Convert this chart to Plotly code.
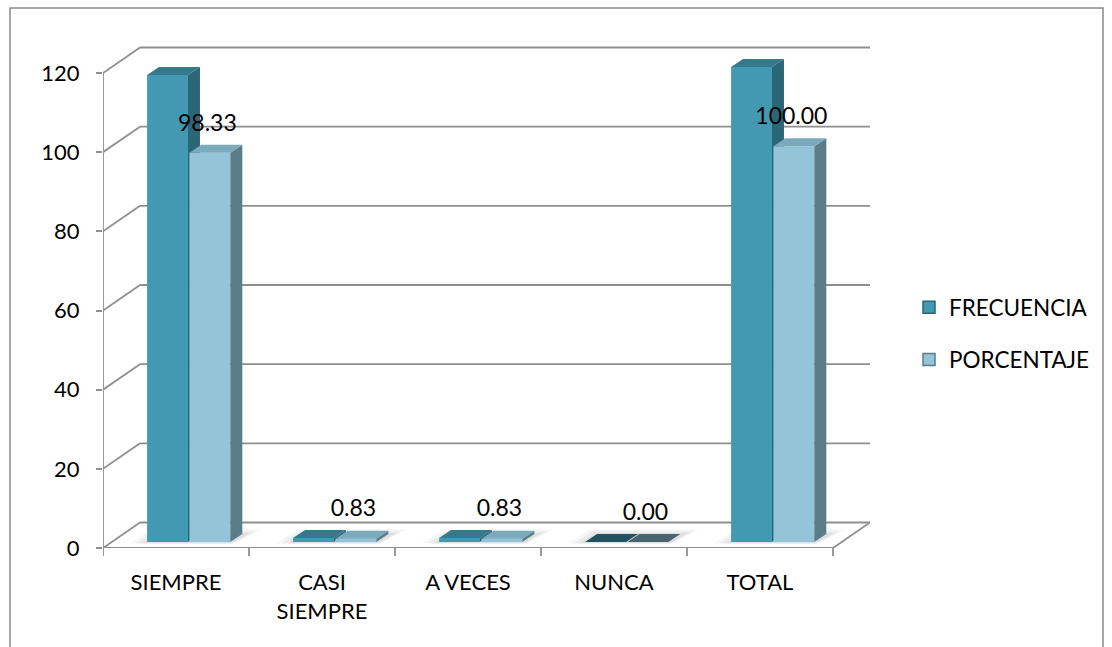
import plotly.graph_objects as go

# ---------------- data ----------------
categories = ["SIEMPRE", "CASI<br>SIEMPRE", "A VECES", "NUNCA", "TOTAL"]
frecuencia = [118, 1, 1, 0, 120]
porcentaje = [98.33, 0.83, 0.83, 0.00, 100.00]
porcentaje_labels = ["98.33", "0.83", "0.83", "0.00", "100.00"]
y_ticks = [0, 20, 40, 60, 80, 100, 120]
series_names = ["FRECUENCIA", "PORCENTAJE"]

# ---------------- geometry (pixel based) ----------------
W, H = 1112, 647
L, R, T, B = 103, 870, 46, 548
PX_CAT = 146.0
PX_UNIT = 475.0 / 120.0
DX = 37 / PX_CAT          # depth offset of back wall (x units)
DY = 25.5 / PX_UNIT       # depth offset of back wall (y units)
BASE = 6 / PX_UNIT        # bar front base above floor front edge
BDX = 12 / PX_CAT         # bar depth x
BDY = 8 / PX_UNIT         # bar depth y
BAR_W = 0.28
OFFS = [-0.058, 0.232]
XMIN = -0.5
XMAX = XMIN + (R - L) / PX_CAT
YMAX = (B - T) / PX_UNIT
NCAT = len(categories)

FONT = "Lato"
GRID = "#8f8f8f"

styles = [
    dict(front="#4399b1", side="#2b6677", top="#35798d", top0="#22525f"),
    dict(front="#93c4d7", side="#5b7d89", top="#7aaabb", top0="#476570"),
]

fig = go.Figure()

# ---- walls / gridlines ----
gx, gy = [], []
for v in y_ticks:
    gx += [XMIN + DX, NCAT - 0.5 + DX, None]
    gy += [v + DY, v + DY, None]
    gx += [XMIN, XMIN + DX, None]
    gy += [v, v + DY, None]
# front axis vertical
gx += [XMIN, XMIN, None]
gy += [0, max(y_ticks), None]
# floor front edge + right diagonal
gx += [XMIN, NCAT - 0.5, NCAT - 0.5 + DX, None]
gy += [0, 0, DY, None]
fig.add_trace(go.Scatter(x=gx, y=gy, mode="lines", line=dict(color=GRID, width=1.8),
                         hoverinfo="skip", showlegend=False))

# ---- soft shadows ----
for grow, alpha in [(0.10, 0.035), (0.06, 0.045), (0.02, 0.05)]:
    sx, sy = [], []
    for i in range(NCAT):
        x0 = i + OFFS[0] - BAR_W / 2
        x1 = i + OFFS[1] + BAR_W / 2
        sx += [x0 - grow - 0.02, x1 + grow * 0.3, x1 + BDX + grow + 0.03,
               x0 + BDX - grow * 0.5, x0 - grow - 0.02, None]
        sy += [BASE - 0.4, BASE - 0.4, BASE + BDY + grow * 12,
               BASE + BDY + grow * 12, BASE - 0.4, None]
    fig.add_trace(go.Scatter(x=sx, y=sy, mode="lines", fill="toself",
                             fillcolor=f"rgba(0,0,0,{alpha})", line=dict(width=0),
                             hoverinfo="skip", showlegend=False))

# ---- 3D bars ----
for s, vals in enumerate([frecuencia, porcentaje]):
    st = styles[s]
    fx, fy, sx_, sy_ = [], [], [], []
    tops = []
    for i, v in enumerate(vals):
        x0 = i + OFFS[s] - BAR_W / 2
        x1 = i + OFFS[s] + BAR_W / 2
        b, t = BASE, BASE + v
        fx += [x0, x1, x1, x0, x0, None]
        fy += [b, b, t, t, b, None]
        sx_ += [x1, x1 + BDX, x1 + BDX, x1, x1, None]
        sy_ += [b, b + BDY, t + BDY, t, b, None]
        tops.append(([x0, x1, x1 + BDX, x0 + BDX, x0], [t, t, t + BDY, t + BDY, t],
                     st["top0"] if v == 0 else st["top"]))
    fig.add_trace(go.Scatter(x=fx, y=fy, mode="lines", fill="toself", fillcolor=st["front"],
                             line=dict(width=0), hoverinfo="skip", showlegend=False))
    fig.add_trace(go.Scatter(x=sx_, y=sy_, mode="lines", fill="toself", fillcolor=st["side"],
                             line=dict(width=0), hoverinfo="skip", showlegend=False))
    for tx, ty, col in tops:
        fig.add_trace(go.Scatter(x=tx, y=ty, mode="lines", fill="toself", fillcolor=col,
                                 line=dict(width=0), hoverinfo="skip", showlegend=False))

# ---- data labels ----
fig.add_trace(go.Scatter(
    x=[i + 0.215 for i in range(NCAT)],
    y=[BASE + v + 28 / PX_UNIT for v in porcentaje],
    mode="text", text=porcentaje_labels, textposition="middle center",
    textfont=dict(family=FONT, size=23, color="#000000"),
    cliponaxis=False, hoverinfo="skip", showlegend=False))

# ---- legend entries ----
for s, name in enumerate(series_names):
    fig.add_trace(go.Bar(x=[None], y=[None], name=name, legendgroup=name,
                         marker=dict(color=styles[s]["front"],
                                     line=dict(color=styles[s]["side"], width=1.5))))

# ---- category boundary ticks ----
shapes = []
for k in range(NCAT + 1):
    xb = XMIN + k
    shapes.append(dict(type="line", xref="x", yref="paper", x0=xb, x1=xb,
                       y0=0, y1=-8 / (B - T), line=dict(color=GRID, width=1.8)))
# outer chart border
shapes.append(dict(type="rect", xref="paper", yref="paper",
                   x0=(10 - L) / (R - L), x1=(1103 - L) / (R - L),
                   y0=(B - 665) / (B - T), y1=(B - 8) / (B - T),
                   line=dict(color="#8a8a8a", width=1.5), fillcolor="rgba(0,0,0,0)", layer="below"))

fig.update_layout(
    width=W, height=H,
    margin=dict(l=L, r=W - R, t=T, b=H - B, pad=0),
    paper_bgcolor="white", plot_bgcolor="white",
    font=dict(family=FONT, size=22, color="#000000"),
    showlegend=True,
    legend=dict(x=(909 - L) / (R - L), xanchor="left",
                y=(B - 286) / (B - T), yanchor="top",
                font=dict(family=FONT, size=22.5, color="#000000"),
                tracegroupgap=20, bgcolor="rgba(0,0,0,0)"),
    xaxis=dict(range=[XMIN, XMAX], tickvals=list(range(NCAT)), ticktext=categories,
               showgrid=False, zeroline=False, showline=False, ticks="",
               ticklabelstandoff=19, fixedrange=True),
    yaxis=dict(range=[0, YMAX], tickvals=y_ticks, ticktext=[str(v) for v in y_ticks],
               showgrid=False, zeroline=False, showline=False,
               ticks="outside", ticklen=6, tickwidth=1.8, tickcolor=GRID,
               ticklabelstandoff=12, fixedrange=True),
    shapes=shapes,
)

fig.write_html("out.html")
